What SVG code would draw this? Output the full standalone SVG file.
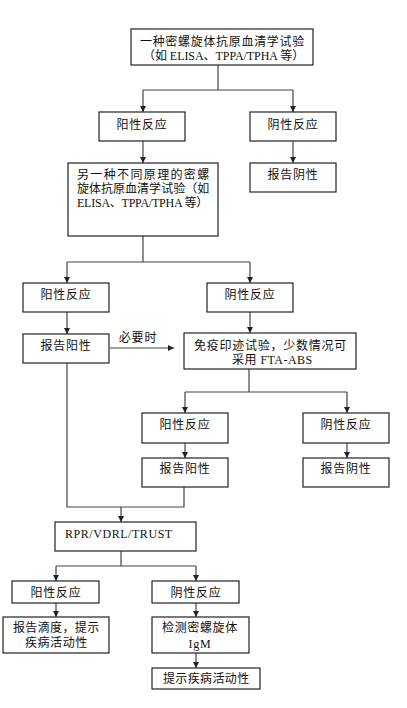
<svg xmlns="http://www.w3.org/2000/svg" width="407" height="708" viewBox="0 0 407 708">
<defs>
<marker id="ah" viewBox="0 0 10 10" refX="10" refY="5" markerWidth="6" markerHeight="6" orient="auto" markerUnits="userSpaceOnUse">
<path d="M0,0 L10,5 L0,10 z" fill="#222"/>
</marker>
</defs>
<style>
.box{fill:#fff;stroke:#222;stroke-width:1.2}
.t{font-family:"Liberation Serif","Noto Sans CJK SC",serif;font-size:12px;fill:#111;letter-spacing:0.8px}
.c{text-anchor:middle}
.ln{fill:none;stroke:#444;stroke-width:1.2}
.ar{fill:none;stroke:#444;stroke-width:1.2;marker-end:url(#ah)}
</style>
<rect width="407" height="708" fill="#fff"/>
<g id="connectors">
<path class="ln" d="M218,65 V90 M143,90 H293"/>
<path class="ar" d="M143,90 V112"/>
<path class="ar" d="M293,90 V112"/>
<path class="ar" d="M143,141 V163"/>
<path class="ar" d="M293,141 V163"/>
<path class="ln" d="M143,236 V262 M67,262 H250"/>
<path class="ar" d="M67,262 V283"/>
<path class="ar" d="M250,262 V283"/>
<path class="ar" d="M67,312 V334"/>
<path class="ar" d="M250,312 V333"/>
<path class="ar" d="M110,348 H174"/>
<path class="ln" d="M249,369 V392 M185,392 H347"/>
<path class="ar" d="M185,392 V413"/>
<path class="ar" d="M347,392 V413"/>
<path class="ar" d="M185,443 V458"/>
<path class="ar" d="M347,443 V458"/>
<path class="ln" d="M67,363 V507 H184 V487"/>
<path class="ar" d="M121,507 V522"/>
<path class="ln" d="M121,551 V566 M56,566 H196"/>
<path class="ar" d="M56,566 V581"/>
<path class="ar" d="M196,566 V581"/>
<path class="ar" d="M56,603 V617"/>
<path class="ar" d="M196,603 V617"/>
<path class="ar" d="M196,653 V668"/>
</g>
<g id="n1"><rect class="box" x="131" y="29" width="182" height="36"/>
<text class="t" x="140" y="46" textLength="165" lengthAdjust="spacing">一种密螺旋体抗原血清学试验</text>
<text class="t" x="143" y="60" textLength="162" lengthAdjust="spacing">（如 ELISA、TPPA/TPHA 等）</text></g>
<g id="n2"><rect class="box" x="99" y="112" width="86" height="29"/><text class="t c" x="142" y="129">阳性反应</text></g>
<g id="n3"><rect class="box" x="250" y="112" width="86" height="29"/><text class="t c" x="293" y="129">阴性反应</text></g>
<g id="n4"><rect class="box" x="68" y="163" width="150" height="73"/>
<text class="t" x="77" y="179" textLength="133" lengthAdjust="spacing">另一种不同原理的密螺</text>
<text class="t" x="77" y="193" textLength="133" lengthAdjust="spacing">旋体抗原血清学试验（如</text>
<text class="t" x="77" y="207" textLength="132" lengthAdjust="spacing">ELISA、TPPA/TPHA 等）</text></g>
<g id="n5"><rect class="box" x="250" y="163" width="86" height="29"/><text class="t c" x="293" y="179">报告阴性</text></g>
<g id="n6"><rect class="box" x="23" y="283" width="86" height="29"/><text class="t c" x="66" y="299">阳性反应</text></g>
<g id="n7"><rect class="box" x="207" y="283" width="86" height="29"/><text class="t c" x="250" y="299">阴性反应</text></g>
<g id="n8"><rect class="box" x="23" y="334" width="86" height="29"/><text class="t c" x="66" y="350">报告阳性</text></g>
<text class="t c" x="138" y="342">必要时</text>
<g id="n9"><rect class="box" x="184" y="333" width="172" height="36"/>
<text class="t" x="194" y="350" textLength="153" lengthAdjust="spacing">免疫印迹试验，少数情况可</text>
<text class="t" x="232" y="364" textLength="81" lengthAdjust="spacing">采用 FTA-ABS</text></g>
<g id="n10"><rect class="box" x="142" y="413" width="86" height="30"/><text class="t c" x="185" y="429">阳性反应</text></g>
<g id="n11"><rect class="box" x="303" y="413" width="86" height="30"/><text class="t c" x="346" y="429">阴性反应</text></g>
<g id="n12"><rect class="box" x="142" y="458" width="86" height="29"/><text class="t c" x="185" y="473">报告阳性</text></g>
<g id="n13"><rect class="box" x="303" y="458" width="86" height="29"/><text class="t c" x="346" y="473">报告阴性</text></g>
<g id="n14"><rect class="box" x="55" y="522" width="141" height="29"/><text class="t" x="65" y="538" textLength="108" lengthAdjust="spacing">RPR/VDRL/TRUST</text></g>
<g id="n15"><rect class="box" x="12" y="581" width="87" height="22"/><text class="t c" x="56" y="597">阳性反应</text></g>
<g id="n16"><rect class="box" x="152" y="581" width="87" height="22"/><text class="t c" x="196" y="597">阴性反应</text></g>
<g id="n17"><rect class="box" x="3" y="617" width="106" height="36"/>
<text class="t" x="13" y="632" textLength="87" lengthAdjust="spacing">报告滴度，提示</text>
<text class="t" x="25" y="647" textLength="63" lengthAdjust="spacing">疾病活动性</text></g>
<g id="n18"><rect class="box" x="152" y="617" width="97" height="36"/>
<text class="t" x="162" y="632" textLength="76" lengthAdjust="spacing">检测密螺旋体</text>
<text class="t c" x="200" y="648">IgM</text></g>
<g id="n19"><rect class="box" x="152" y="668" width="108" height="21"/><text class="t" x="163" y="683" textLength="87" lengthAdjust="spacing">提示疾病活动性</text></g>
</svg>
